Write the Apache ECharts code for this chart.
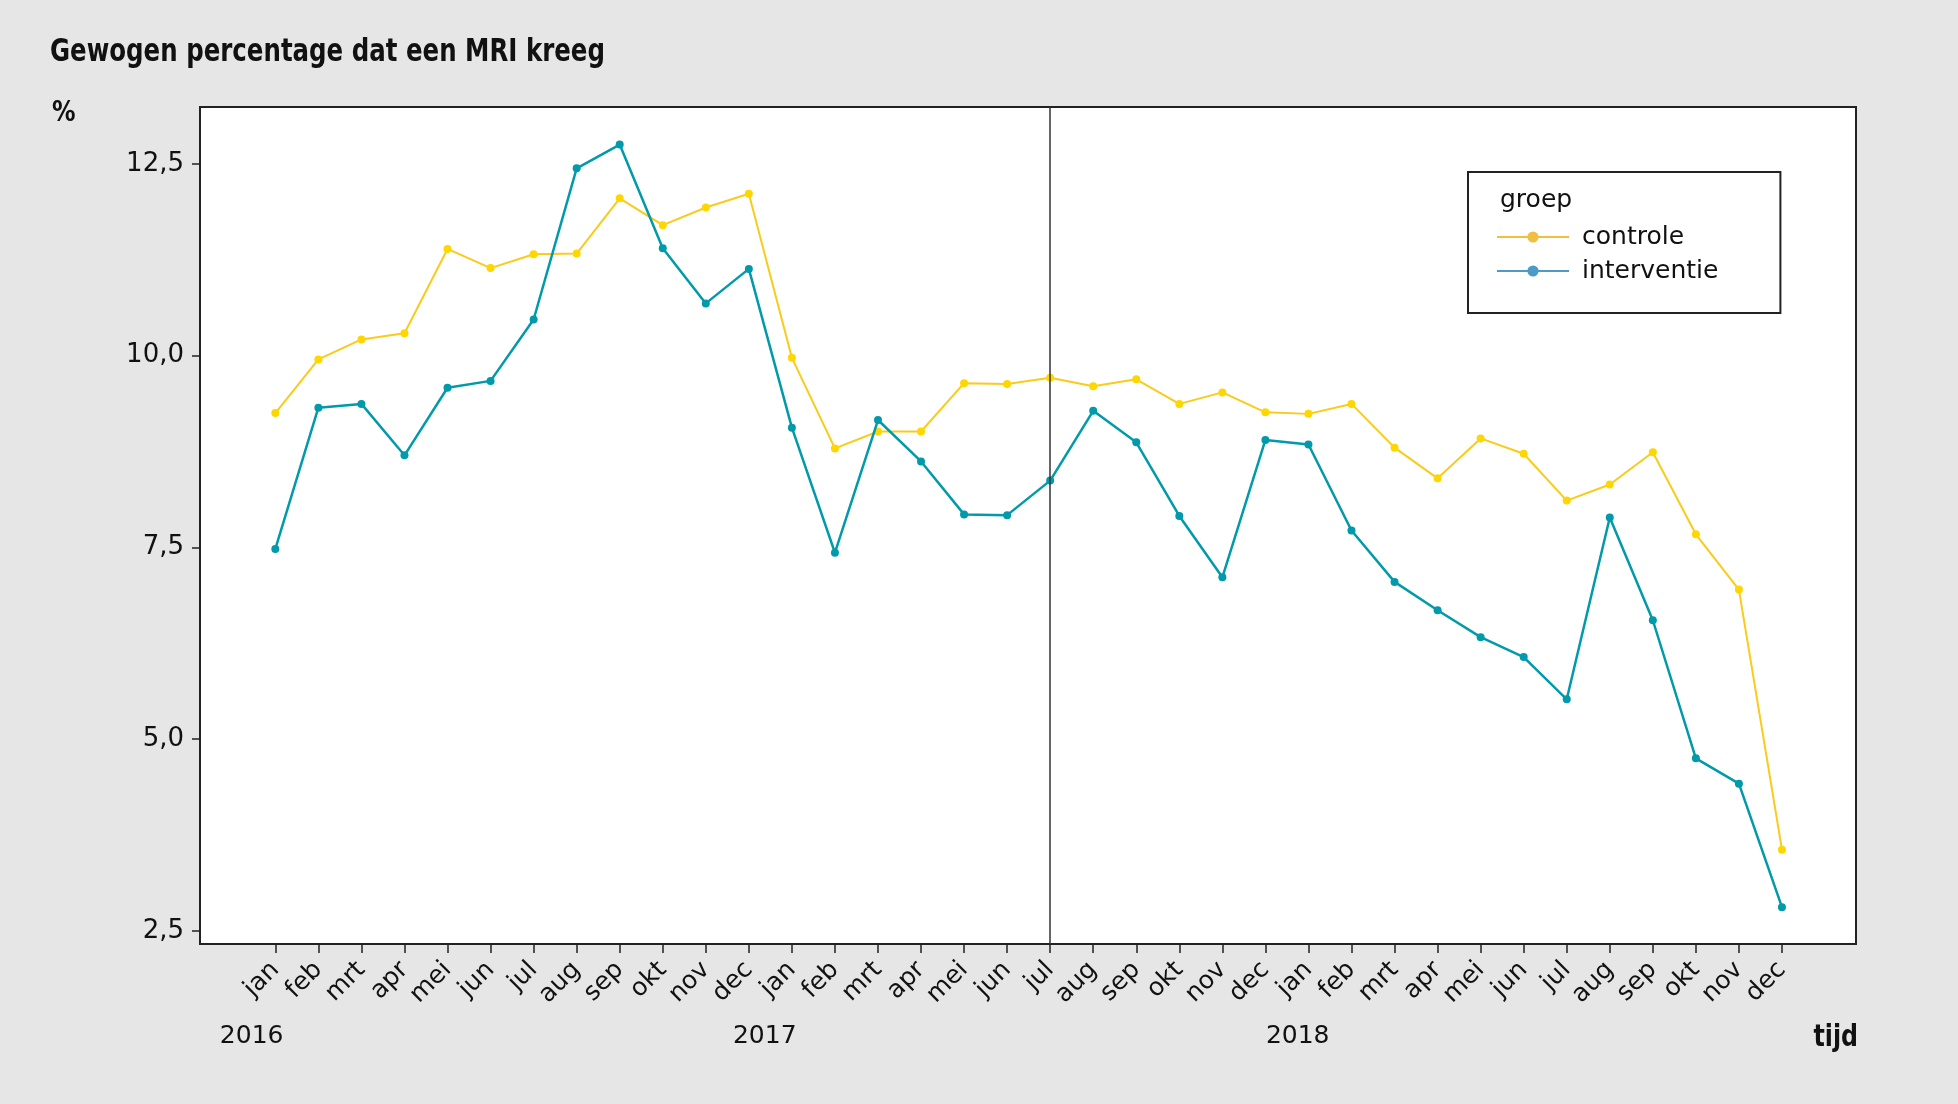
<!DOCTYPE html>
<html>
<head>
<meta charset="utf-8">
<script src="https://cdn.jsdelivr.net/npm/echarts@6/dist/echarts.min.js"></script>
<style>
html,body{margin:0;padding:0;background:#e6e6e6;}
#c{width:1958px;height:1104px;}
</style>
</head>
<body>
<div id="c"></div>
<script>
const months = ['jan','feb','mrt','apr','mei','jun','jul','aug','sep','okt','nov','dec',
  'jan','feb','mrt','apr','mei','jun','jul','aug','sep','okt','nov','dec',
  'jan','feb','mrt','apr','mei','jun','jul','aug','sep','okt','nov','dec'];
const years = ['2016','2017','2018'];
const controle = [9.25, 9.95, 10.21, 10.29, 11.39, 11.14, 11.32, 11.33, 12.05, 11.70, 11.93, 12.11,
  9.97, 8.79, 9.01, 9.01, 9.64, 9.63, 9.71, 9.60, 9.69, 9.37, 9.52, 9.26,
  9.24, 9.37, 8.80, 8.40, 8.92, 8.72, 8.11, 8.32, 8.74, 7.67, 6.95, 3.56];
const interventie = [7.48, 9.32, 9.37, 8.70, 9.58, 9.67, 10.47, 12.44, 12.75, 11.40, 10.68, 11.13,
  9.06, 7.43, 9.16, 8.62, 7.93, 7.92, 8.37, 9.28, 8.87, 7.91, 7.11, 8.90,
  8.84, 7.72, 7.05, 6.68, 6.33, 6.07, 5.52, 7.89, 6.55, 4.75, 4.42, 2.81];
const yTicks = [2.5, 5.0, 7.5, 10.0, 12.5];
const interventionIndex = 18;

const idx = months.map((m, i) => i);
const yearPos = [-0.55, 11.37, 23.75];

const chart = echarts.init(document.getElementById('c'), null, {renderer: 'canvas'});
const axisFont = 'DejaVu Sans';
const boldFont = "'DejaVu Sans Condensed', 'Liberation Sans Narrow', Roboto, sans-serif";
chart.setOption({
  backgroundColor: '#e6e6e6',
  animation: false,
  grid: {left: 200, right: 102, top: 107, bottom: 160, show: true,
    backgroundColor: '#ffffff', borderColor: '#222', borderWidth: 2},
  legend: {
    left: 1468, top: 172, orient: 'vertical',
    padding: [50, 62, 27, 28],
    borderColor: '#222', borderWidth: 2, backgroundColor: '#fff',
    itemWidth: 72, itemHeight: 14, itemGap: 4,
    textStyle: {fontFamily: axisFont, fontSize: 25, color: '#111', lineHeight: 30, padding: [0,0,0,8]},
    data: [
      {name: 'controle', itemStyle: {color: '#F0BE40'}, lineStyle: {color: '#F0BE40', width: 2}},
      {name: 'interventie', itemStyle: {color: '#4D9AC8'}, lineStyle: {color: '#4D9AC8', width: 2}}
    ]
  },
  graphic: [
    {type: 'text', x: 50, y: 53, scaleX: 0.85, z: 100,
     style: {text: 'Gewogen percentage dat een MRI kreeg', fontFamily: boldFont, fontWeight: 'bold',
       fontSize: 32, fill: '#111', verticalAlign: 'middle'}},
    {type: 'text', x: 52, y: 113, scaleX: 0.9, z: 100,
     style: {text: '%', fontFamily: boldFont, fontWeight: 'bold', fontSize: 29, fill: '#111', verticalAlign: 'middle'}},
    {type: 'text', x: 1858, y: 1038, scaleX: 0.85, z: 100,
     style: {text: 'tijd', fontFamily: boldFont, fontWeight: 'bold', fontSize: 31, fill: '#111',
       align: 'right', verticalAlign: 'middle'}},
    {type: 'text', left: 1500, top: 188, z: 100,
     style: {text: 'groep', fontFamily: axisFont, fontSize: 25, fill: '#111'}}
  ],
  xAxis: [
    {type: 'value', min: -1.75, max: 36.72, position: 'bottom',
     splitLine: {show: false},
     axisLine: {show: true, onZero: false, lineStyle: {color: '#222', width: 2}},
     axisTick: {show: true, customValues: idx, length: 9, lineStyle: {color: '#222', width: 1.5}},
     axisLabel: {customValues: idx, rotate: 45, margin: 22, fontFamily: axisFont, fontSize: 25, color: '#111',
       formatter: v => months[Math.round(v)]}},
    {type: 'value', min: -1.75, max: 36.72, position: 'bottom',
     splitLine: {show: false}, axisLine: {show: false, onZero: false}, axisTick: {show: false},
     axisLabel: {customValues: yearPos, margin: 80, fontFamily: axisFont, fontSize: 25, color: '#111',
       formatter: v => years[yearPos.indexOf(v)]}}
  ],
  yAxis: {type: 'value', min: 2.33, max: 13.24,
    splitLine: {show: false},
    axisLine: {show: true, onZero: false, lineStyle: {color: '#222', width: 2}},
    axisTick: {show: true, customValues: yTicks, length: 8, lineStyle: {color: '#222', width: 1.5}},
    axisLabel: {customValues: yTicks, margin: 16, fontFamily: axisFont, fontSize: 26, color: '#111',
      formatter: v => v.toFixed(1).replace('.', ',')}},
  series: [
    {name: 'controle', type: 'line', data: controle.map((v, i) => [i, v]),
     symbol: 'circle', symbolSize: 8, color: '#FFD200',
     lineStyle: {color: '#F9CB1A', width: 2}, itemStyle: {color: '#FFD700'}, z: 3,
     markLine: {silent: true, symbol: 'none', label: {show: false},
       lineStyle: {color: '#333', width: 1.5, type: 'solid'},
       data: [{xAxis: interventionIndex}]}},
    {name: 'interventie', type: 'line', data: interventie.map((v, i) => [i, v]),
     symbol: 'circle', symbolSize: 8, color: '#009AAA',
     lineStyle: {color: '#009AAA', width: 2.5}, itemStyle: {color: '#009AAA'}, z: 4}
  ]
});
</script>
</body>
</html>
